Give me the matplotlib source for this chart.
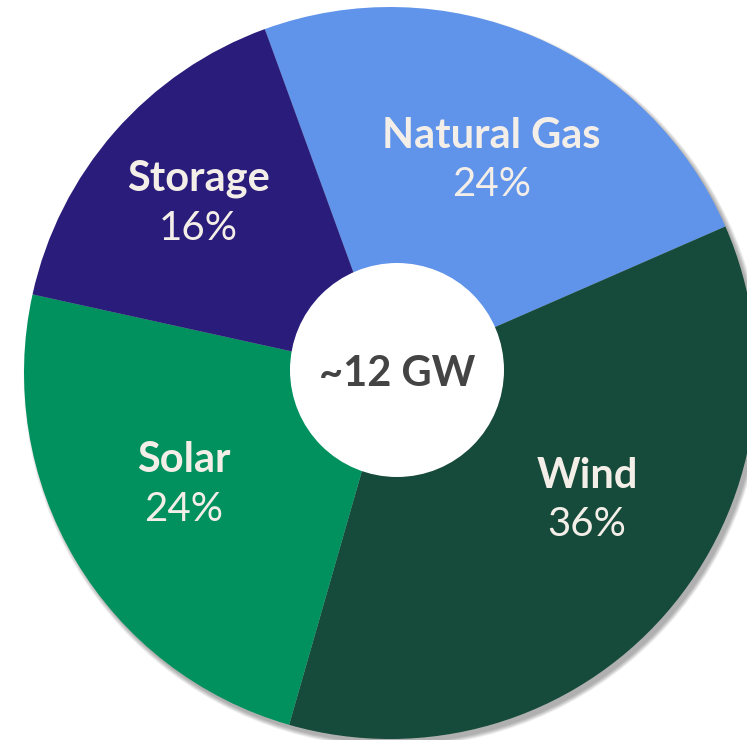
import numpy as np
import matplotlib.pyplot as plt
from matplotlib.patches import Circle

# data
sources = ['Natural Gas', 'Wind', 'Solar', 'Storage']
shares = [24, 36, 24, 16]
colors = ['#6094EA', '#164A3A', '#00915F', '#2A1C7A']
center_text = '~12 GW'

# label placement (angle clockwise from top in degrees, radius as fraction of pie)
label_pos = {'Natural Gas': (25.4, 0.645), 'Wind': (122.8, 0.64),
             'Solar': (241.7, 0.64), 'Storage': (311.5, 0.70)}

W, H = 747, 740
cx, cy, R = 390, 373, 366  # pie center and radius in pixels

fig = plt.figure(figsize=(W / 100, H / 100), dpi=100)
ax = fig.add_axes([0, 0, 1, 1])

px = 1 / R
wedges, _ = ax.pie(shares, colors=colors, startangle=110, counterclock=False,
                   radius=1, wedgeprops=dict(linewidth=0))
for w in wedges:
    w.set_zorder(1)

ax.set_xlim(-cx / R, (W - cx) / R)
ax.set_ylim(-(H - cy) / R, cy / R)
ax.set_aspect('equal')
ax.axis('off')

# soft drop shadow
for i in range(8):
    ax.add_patch(Circle((3.5 * px, -4.5 * px), 1 + (4 - i * 0.6) * px,
                        color='black', alpha=0.045, lw=0, zorder=0))

# center hole
ax.add_patch(Circle(((397 - cx) * px, (cy - 370) * px), 107 * px,
                    color='white', lw=0, zorder=2))
ax.text((397 - cx) * px, (cy - 374) * px, center_text, ha='center', va='center',
        fontsize=30, fontweight='bold', color='#444444', family='Lato', zorder=3)

txt_color = '#F4EEE8'
for name, val in zip(sources, shares):
    ang, r = label_pos[name]
    x = r * np.sin(np.radians(ang))
    y = r * np.cos(np.radians(ang))
    ax.text(x, y + 24 * px, name, ha='center', va='center', fontsize=30,
            fontweight='bold', color=txt_color, family='Lato', zorder=3)
    ax.text(x, y - 25 * px, f'{val}%', ha='center', va='center', fontsize=29,
            fontweight='normal', color=txt_color, family='Lato', zorder=3)

fig.savefig('out.png', dpi=100, facecolor='white')
